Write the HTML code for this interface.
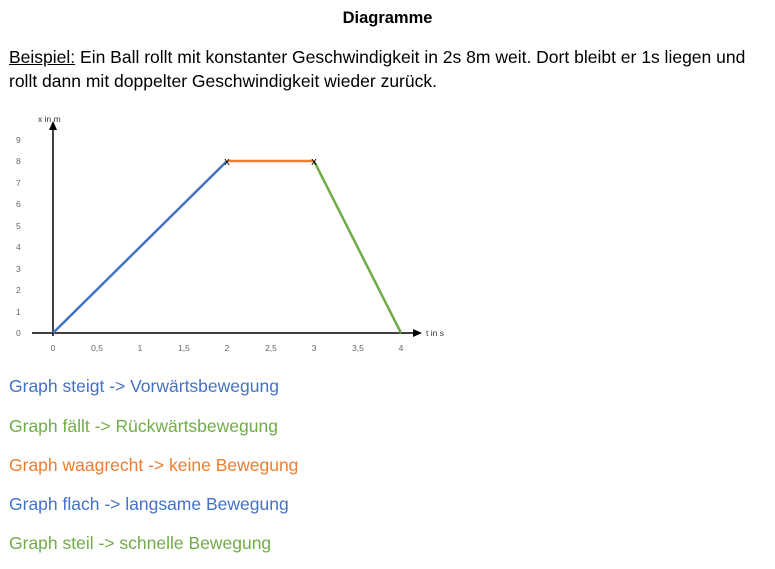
<!DOCTYPE html>
<html><head><meta charset="utf-8"><style>
body{margin:0;width:775px;height:569px;background:#fff;position:relative;font-family:"Liberation Sans",sans-serif;overflow:hidden}
.t{position:absolute;white-space:nowrap;font-size:17.5px;line-height:20px}
</style></head><body>
<div class="t" style="left:0;width:775px;text-align:center;top:8px;font-weight:bold;font-size:16.5px">Diagramme</div>
<div class="t" style="left:9px;top:47px;color:#000"><u>Beispiel:</u> Ein Ball rollt mit konstanter Geschwindigkeit in 2s 8m weit. Dort bleibt er 1s liegen und</div>
<div class="t" style="left:9px;top:71px;color:#000">rollt dann mit doppelter Geschwindigkeit wieder zurück.</div>
<svg style="position:absolute;left:0;top:0" width="775" height="569">
<g font-family="Liberation Sans, sans-serif" font-size="8.5" fill="#666">
<text x="16" y="336">0</text><text x="16" y="315">1</text><text x="16" y="293">2</text><text x="16" y="272">3</text><text x="16" y="250">4</text><text x="16" y="229">5</text><text x="16" y="207">6</text><text x="16" y="186">7</text><text x="16" y="164">8</text><text x="16" y="143">9</text>
<g text-anchor="middle"><text x="53" y="351">0</text><text x="97" y="351">0,5</text><text x="140" y="351">1</text><text x="184" y="351">1,5</text><text x="227" y="351">2</text><text x="271" y="351">2,5</text><text x="314" y="351">3</text><text x="358" y="351">3,5</text><text x="401" y="351">4</text></g>
</g>
<text x="38" y="122" font-family="Liberation Sans, sans-serif" font-size="8.5" fill="#333">x in m</text>
<text x="426" y="336" font-family="Liberation Sans, sans-serif" font-size="8.5" fill="#333">t in s</text>
<line x1="53" y1="336" x2="53" y2="128" stroke="#000" stroke-width="1.5"/>
<polygon points="53,121 49,130 57,130" fill="#000"/>
<line x1="32" y1="333" x2="414" y2="333" stroke="#000" stroke-width="1.5"/>
<polygon points="422,333 413,329 413,337" fill="#000"/>
<line x1="53" y1="333" x2="227" y2="161" stroke="#4472C4" stroke-width="2.5"/>
<line x1="227" y1="161" x2="314" y2="161" stroke="#ED7D31" stroke-width="2.5"/>
<line x1="314" y1="161" x2="401" y2="333" stroke="#70AD47" stroke-width="2.5"/>
<g font-family="Liberation Sans, sans-serif" font-size="11" text-anchor="middle"><text x="227" y="165">x</text><text x="314" y="165">x</text></g>
</svg>
<div class="t" style="left:9px;top:376px;color:#4472C4">Graph steigt -&gt; Vorwärtsbewegung</div>
<div class="t" style="left:9px;top:416px;color:#70AD47">Graph fällt -&gt; Rückwärtsbewegung</div>
<div class="t" style="left:9px;top:455px;color:#ED7D31">Graph waagrecht -&gt; keine Bewegung</div>
<div class="t" style="left:9px;top:494px;color:#4472C4">Graph flach -&gt; langsame Bewegung</div>
<div class="t" style="left:9px;top:533px;color:#70AD47">Graph steil -&gt; schnelle Bewegung</div>
</body></html>
